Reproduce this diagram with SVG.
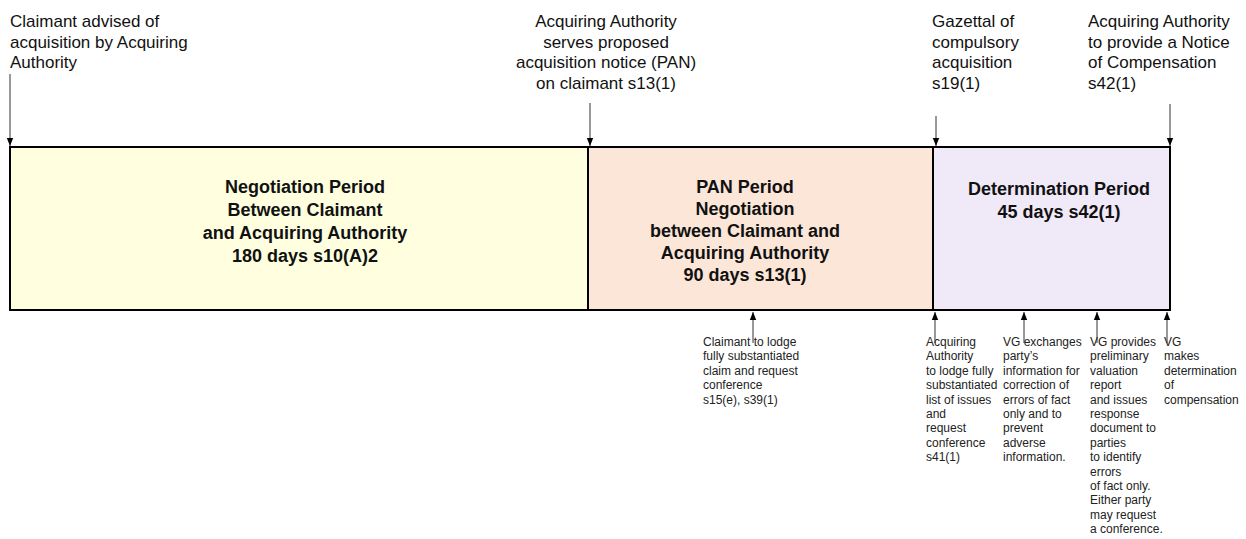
<svg xmlns="http://www.w3.org/2000/svg" width="1246" height="539" viewBox="0 0 1246 539">
<defs>
<style>
.lbl{font-family:"Liberation Sans",Arial,sans-serif;font-size:17px;fill:#111}
.box{font-family:"Liberation Sans",Arial,sans-serif;font-size:18px;font-weight:bold;fill:#111;text-anchor:middle}
.note{font-family:"Liberation Sans",Arial,sans-serif;font-size:12px;fill:#222}
.rect{stroke:#000;stroke-width:2}
.arr{stroke:#333;stroke-width:1;fill:none;marker-end:url(#ah)}
</style>
<marker id="ah" viewBox="0 0 8 8" refX="8" refY="4" markerWidth="8" markerHeight="8" markerUnits="userSpaceOnUse" orient="auto">
<path d="M0,0.8 L8,4 L0,7.2 z" fill="#000"/>
</marker>
</defs>
<rect width="1246" height="539" fill="#fff"/>

<g id="top-labels">
<text class="lbl" x="10" y="27"><tspan x="10">Claimant advised of</tspan><tspan x="10" dy="20.5">acquisition by Acquiring</tspan><tspan x="10" dy="20.5">Authority</tspan></text>
<text class="lbl" x="606" y="27" text-anchor="middle"><tspan x="606">Acquiring Authority</tspan><tspan x="606" dy="20.5">serves proposed</tspan><tspan x="606" dy="20.5">acquisition notice (PAN)</tspan><tspan x="606" dy="20.5">on claimant s13(1)</tspan></text>
<text class="lbl" x="932" y="27"><tspan x="932">Gazettal of</tspan><tspan x="932" dy="20.5">compulsory</tspan><tspan x="932" dy="20.5">acquisition</tspan><tspan x="932" dy="20.5">s19(1)</tspan></text>
<text class="lbl" x="1088" y="27"><tspan x="1088">Acquiring Authority</tspan><tspan x="1088" dy="20.5">to provide a Notice</tspan><tspan x="1088" dy="20.5">of Compensation</tspan><tspan x="1088" dy="20.5">s42(1)</tspan></text>
</g>

<g id="negotiation-period">
<rect class="rect" x="10" y="147" width="578" height="163" fill="#FFFFE0"/>
<text class="box" x="305" y="193"><tspan x="305">Negotiation Period</tspan><tspan x="305" dy="23">Between Claimant</tspan><tspan x="305" dy="23">and Acquiring Authority</tspan><tspan x="305" dy="23">180 days s10(A)2</tspan></text>
</g>

<g id="pan-period">
<rect class="rect" x="588" y="147" width="345" height="163" fill="#FCE6D8"/>
<text class="box" x="745" y="193"><tspan x="745">PAN Period</tspan><tspan x="745" dy="22">Negotiation</tspan><tspan x="745" dy="22">between Claimant and</tspan><tspan x="745" dy="22">Acquiring Authority</tspan><tspan x="745" dy="22">90 days s13(1)</tspan></text>
</g>

<g id="determination-period">
<rect class="rect" x="933" y="147" width="237" height="163" fill="#F0E9F8"/>
<text class="box" x="1059" y="195"><tspan x="1059">Determination Period</tspan><tspan x="1059" dy="23">45 days s42(1)</tspan></text>
</g>

<g id="bottom-notes">
<text class="note" y="346"><tspan x="703">Claimant to lodge</tspan><tspan x="703" dy="14.4">fully substantiated</tspan><tspan x="703" dy="14.4">claim and request</tspan><tspan x="703" dy="14.4">conference</tspan><tspan x="703" dy="14.4">s15(e), s39(1)</tspan></text>
<text class="note" y="346"><tspan x="926">Acquiring</tspan><tspan x="926" dy="14.4">Authority</tspan><tspan x="926" dy="14.4">to lodge fully</tspan><tspan x="926" dy="14.4">substantiated</tspan><tspan x="926" dy="14.4">list of issues</tspan><tspan x="926" dy="14.4">and</tspan><tspan x="926" dy="14.4">request</tspan><tspan x="926" dy="14.4">conference</tspan><tspan x="926" dy="14.4">s41(1)</tspan></text>
<text class="note" y="346"><tspan x="1003">VG exchanges</tspan><tspan x="1003" dy="14.4">party’s</tspan><tspan x="1003" dy="14.4">information for</tspan><tspan x="1003" dy="14.4">correction of</tspan><tspan x="1003" dy="14.4">errors of fact</tspan><tspan x="1003" dy="14.4">only and to</tspan><tspan x="1003" dy="14.4">prevent</tspan><tspan x="1003" dy="14.4">adverse</tspan><tspan x="1003" dy="14.4">information.</tspan></text>
<text class="note" y="346"><tspan x="1090">VG provides</tspan><tspan x="1090" dy="14.4">preliminary</tspan><tspan x="1090" dy="14.4">valuation</tspan><tspan x="1090" dy="14.4">report</tspan><tspan x="1090" dy="14.4">and issues</tspan><tspan x="1090" dy="14.4">response</tspan><tspan x="1090" dy="14.4">document to</tspan><tspan x="1090" dy="14.4">parties</tspan><tspan x="1090" dy="14.4">to identify</tspan><tspan x="1090" dy="14.4">errors</tspan><tspan x="1090" dy="14.4">of fact only.</tspan><tspan x="1090" dy="14.4">Either party</tspan><tspan x="1090" dy="14.4">may request</tspan><tspan x="1090" dy="14.4">a conference.</tspan></text>
<text class="note" y="346"><tspan x="1164">VG</tspan><tspan x="1164" dy="14.4">makes</tspan><tspan x="1164" dy="14.4">determination</tspan><tspan x="1164" dy="14.4">of</tspan><tspan x="1164" dy="14.4">compensation</tspan></text>
</g>

<g id="connectors">
<line class="arr" x1="10" y1="74" x2="10" y2="146"/>
<line class="arr" x1="590" y1="103" x2="590" y2="146"/>
<line class="arr" x1="936" y1="116" x2="936" y2="146"/>
<line class="arr" x1="1170" y1="104" x2="1170" y2="146"/>
<line class="arr" x1="753" y1="343" x2="753" y2="312"/>
<line class="arr" x1="935" y1="343" x2="935" y2="312"/>
<line class="arr" x1="1024" y1="343" x2="1024" y2="312"/>
<line class="arr" x1="1097" y1="343" x2="1097" y2="312"/>
<line class="arr" x1="1167" y1="343" x2="1167" y2="312"/>
</g>
</svg>
